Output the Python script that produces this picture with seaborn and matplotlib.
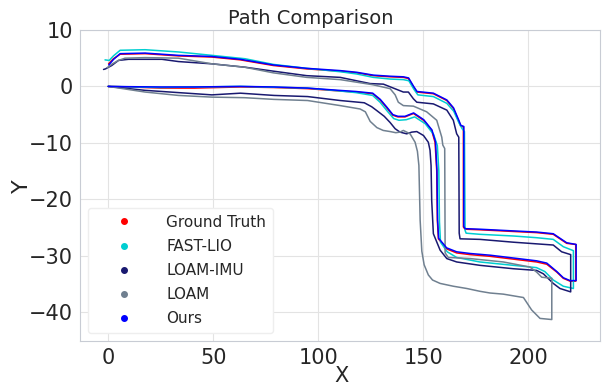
import matplotlib
matplotlib.use("Agg")
import matplotlib.pyplot as plt
import seaborn as sns
from matplotlib.lines import Line2D

# ---------------- data ----------------
gt_x = [0, 10, 25, 41, 63, 79, 95, 110, 118, 126, 129.5, 132.7, 135.5, 138, 141.4, 145.4, 150.2, 154.1, 155.7,
        156.5, 156.8, 157.3, 161.3, 166, 172.4, 181.9, 193, 204.1, 208.9, 213.7, 216.8, 220, 222.7,
        222.7, 218.4, 215.2, 212, 204.1, 193, 177.1, 170, 169.2,
        169.2, 167.9, 166.8, 164.4, 161.3, 154.9, 147, 145.4, 143, 140.6, 134.3, 126.3, 118.4, 110.5,
        94.6, 78.7, 72.4, 63, 49.4, 33.5, 17.6, 5.7, 2.5, 0.2]
gt_y = [0, -0.1, -0.3, -0.3, -0.1, -0.2, -0.4, -0.8, -1.0, -1.3, -2.4, -3.8, -5.1, -5.4, -5.4, -4.8, -6.0, -7.8, -9.9,
        -14.9, -23.7, -27.0, -28.8, -29.5, -29.8, -30.1, -30.6, -31.1, -31.5, -32.9, -34.0, -34.5, -34.5,
        -28.0, -27.8, -27.0, -26.2, -25.9, -25.7, -25.4, -25.3, -24.9,
        -7.2, -7.0, -6.0, -3.9, -2.5, -1.3, -1.0, -0.1, 1.4, 1.6, 1.7, 1.9, 2.4, 2.7,
        3.1, 3.7, 4.1, 4.7, 5.2, 5.4, 5.8, 5.7, 4.9, 4.0]

ours_x = [0, 10, 25, 41, 63, 79, 95, 110, 118, 126, 129.6, 132.8, 135.6, 138, 141.4, 145.5, 150.3, 154.2, 155.9,
          156.6, 156.9, 157.4, 161.2, 166, 172.4, 181.9, 193, 204.1, 208.9, 213.7, 216.8, 220, 222.9,
          222.9, 218.4, 215.2, 212, 204.1, 193, 177.1, 170, 169.4,
          169.4, 168.0, 166.9, 164.5, 161.3, 154.9, 147.1, 145.5, 143.1, 140.6, 134.3, 126.3, 118.4, 110.5,
          94.6, 78.7, 72.4, 63, 49.4, 33.5, 17.6, 5.7, 2.6, 0.3]
ours_y = [0, -0.05, -0.1, -0.1, 0.0, -0.1, -0.3, -0.7, -0.9, -1.2, -2.3, -3.7, -5.0, -5.3, -5.3, -4.7, -5.9, -7.7, -9.8,
          -14.9, -23.7, -26.9, -28.6, -29.3, -29.6, -29.9, -30.4, -30.9, -31.3, -32.8, -33.9, -34.4, -34.4,
          -28.0, -27.7, -26.9, -26.1, -25.8, -25.6, -25.3, -25.2, -24.8,
          -7.1, -6.9, -5.9, -3.8, -2.4, -1.2, -0.9, 0.0, 1.5, 1.7, 1.8, 2.0, 2.5, 2.8,
          3.2, 3.8, 4.2, 4.8, 5.3, 5.5, 5.9, 5.8, 4.8, 3.8]

fast_x = [0, 25, 63, 95, 110, 118, 126, 129.5, 133, 136, 138.5, 142, 146, 151, 155, 156.8,
          157.5, 157.8, 158.3, 161.5, 166, 177, 193, 204, 208, 212, 216.8, 221.6,
          221.6, 216.8, 212, 204, 193, 177, 170.5, 170,
          169.7, 168.6, 167, 164.6, 161.3, 154.9, 147.5, 145.6, 143.2, 140.6, 134.3, 126.3, 118.4, 110.5,
          94.6, 78.7, 65.2, 49.4, 33.5, 17.6, 5.7, 2.5, 0.5, -1.5]
fast_y = [0, -0.2, 0.0, -0.3, -0.8, -1.1, -1.6, -2.8, -4.4, -5.7, -6.0, -5.9, -5.4, -6.6, -8.5, -10.5,
          -15.0, -24.0, -27.6, -29.3, -30.3, -31.1, -31.7, -32.1, -32.8, -34.3, -35.4, -35.8,
          -29.1, -28.4, -27.1, -26.8, -26.5, -26.2, -26.0, -25.5,
          -8.0, -7.5, -6.4, -4.4, -3.0, -1.8, -1.5, -0.5, 1.0, 1.2, 1.3, 1.6, 2.2, 2.6,
          3.2, 3.9, 4.9, 5.5, 6.1, 6.5, 6.4, 5.4, 4.6, 4.7]

imu_x = [0, 17.6, 33.5, 49.4, 63, 79, 95, 110.5, 122, 125.5, 128, 131.5, 134.3, 136.7, 139, 142.2, 144.6, 147,
         150.2, 152.5, 153.3, 153.8, 154.1, 154.9, 158.1, 161.3, 166, 177.1, 193, 204.1, 207.3, 212, 215.2, 220.3,
         220.3, 216, 212, 193, 177.1, 167.6, 167.2,
         167, 166, 164.4, 161.3, 154.9, 147, 145.4, 143, 140.6, 131.1, 124.8, 110.5, 94.6, 78.7, 65.2, 49.4,
         33.5, 25.6, 9.7, 4.9, 1.7, -1.3, -2.2]
imu_y = [0, -0.7, -1.1, -1.5, -1.2, -1.6, -1.8, -2.5, -2.9, -3.6, -4.3, -5.3, -6.4, -7.5, -8.1, -8.4, -8.1, -8.0,
         -8.7, -9.9, -11.3, -14.0, -20.2, -26.1, -29.0, -30.5, -31.1, -31.7, -32.3, -32.6, -33.2, -34.9, -35.8, -36.4,
         -29.8, -29.3, -28.1, -27.6, -27.1, -27.0, -26.0,
         -9.0, -8.4, -6.0, -4.2, -3.1, -2.8, -2.2, -1.0, -1.0, 0.4, 0.5, 1.6, 1.9, 2.7, 3.4, 4.0,
         4.4, 4.8, 4.8, 4.6, 3.7, 3.1, 3.0]

loam_x = [0, 17.6, 33.5, 49.4, 65, 79, 95, 110.5, 120, 122.5, 124.8, 128, 131, 134.3, 137, 139, 140.6, 143.8,
          146.2, 147.3, 148, 148.6, 149.4, 150.5, 152.5, 154.5, 158.1, 164.4, 170.8, 177.1, 181.9, 188.2, 197.8,
          201.7, 205.7, 211.3,
          211.3, 206.5, 204.1, 200.9, 188.2, 172.4, 162, 160.5,
          160.3, 159.4, 158.9, 156.5, 151.7, 145.4, 140.6, 138.2, 136.7, 134.3, 126, 110.5, 94.6, 78.7, 65, 49.4,
          33.5, 17.6, 8, 4.9, 2, -0.5]
loam_y = [0, -1.0, -1.6, -1.9, -2.0, -2.3, -2.5, -3.4, -4.0, -4.5, -6.2, -7.3, -7.8, -8.0, -8.2, -8.1, -7.8, -8.4,
          -9.9, -11.5, -14.0, -23.7, -29.2, -31.6, -33.4, -34.3, -34.9, -35.4, -35.8, -36.3, -36.6, -36.8, -37.4,
          -39.6, -41.1, -41.3,
          -34.0, -33.8, -32.9, -32.0, -31.1, -30.5, -30.3, -29.5,
          -11.0, -10.4, -9.0, -6.0, -4.5, -3.5, -3.4, -2.8, -1.5, -0.4, 0.3, 1.2, 1.6, 2.4, 3.4, 4.0,
          5.0, 5.1, 5.0, 4.6, 4.0, 3.3]

series = ["Ground Truth", "FAST-LIO", "LOAM-IMU", "LOAM", "Ours"]
colors = ["red", "darkturquoise", "midnightblue", "slategray", "blue"]
xs = [gt_x, fast_x, imu_x, loam_x, ours_x]
ys = [gt_y, fast_y, imu_y, loam_y, ours_y]

# ---------------- plot ----------------
sns.set_style("whitegrid")
plt.rcParams["font.family"] = ["DejaVu Sans"]

fig = plt.figure(figsize=(6.04, 3.84), dpi=100)
ax = fig.add_axes([0.1325, 0.112, 0.861, 0.81])

for name, col, x, y in zip(series, colors, xs, ys):
    sns.lineplot(x=x, y=y, sort=False, estimator=None, color=col, linewidth=1.1, ax=ax)

ax.set_xlim(-13.4, 234.3)
ax.set_ylim(-45.1, 9.9)
ax.set_xticks([0, 50, 100, 150, 200])
ax.set_yticks([10, 0, -10, -20, -30, -40])
ax.tick_params(labelsize=15, pad=1.5)
ax.set_xlabel("X", fontsize=15)
ax.set_ylabel("Y", fontsize=16)
ax.xaxis.label.set_va("center")
ax.yaxis.label.set_va("center")
ax.xaxis.set_label_coords(0.502, -0.111)
ax.yaxis.set_label_coords(-0.112, 0.498)
fig.text(311 / 604, 1 - 18 / 384, "Path Comparison", fontsize=14, ha="center", va="center")
for s in ax.spines.values():
    s.set_color("#c8ccd4")
ax.grid(color="#e3e3e3", linewidth=0.8)

handles = [Line2D([], [], linestyle="none", marker="o", markersize=4, color=c) for c in colors]
ax.legend(handles, series, loc="lower left", fontsize=11, handlelength=3.8, handletextpad=0.9,
          borderpad=0.45, labelspacing=0.6, frameon=True, framealpha=1.0, edgecolor="#eeeeee")

fig.savefig("out.png", dpi=100)
